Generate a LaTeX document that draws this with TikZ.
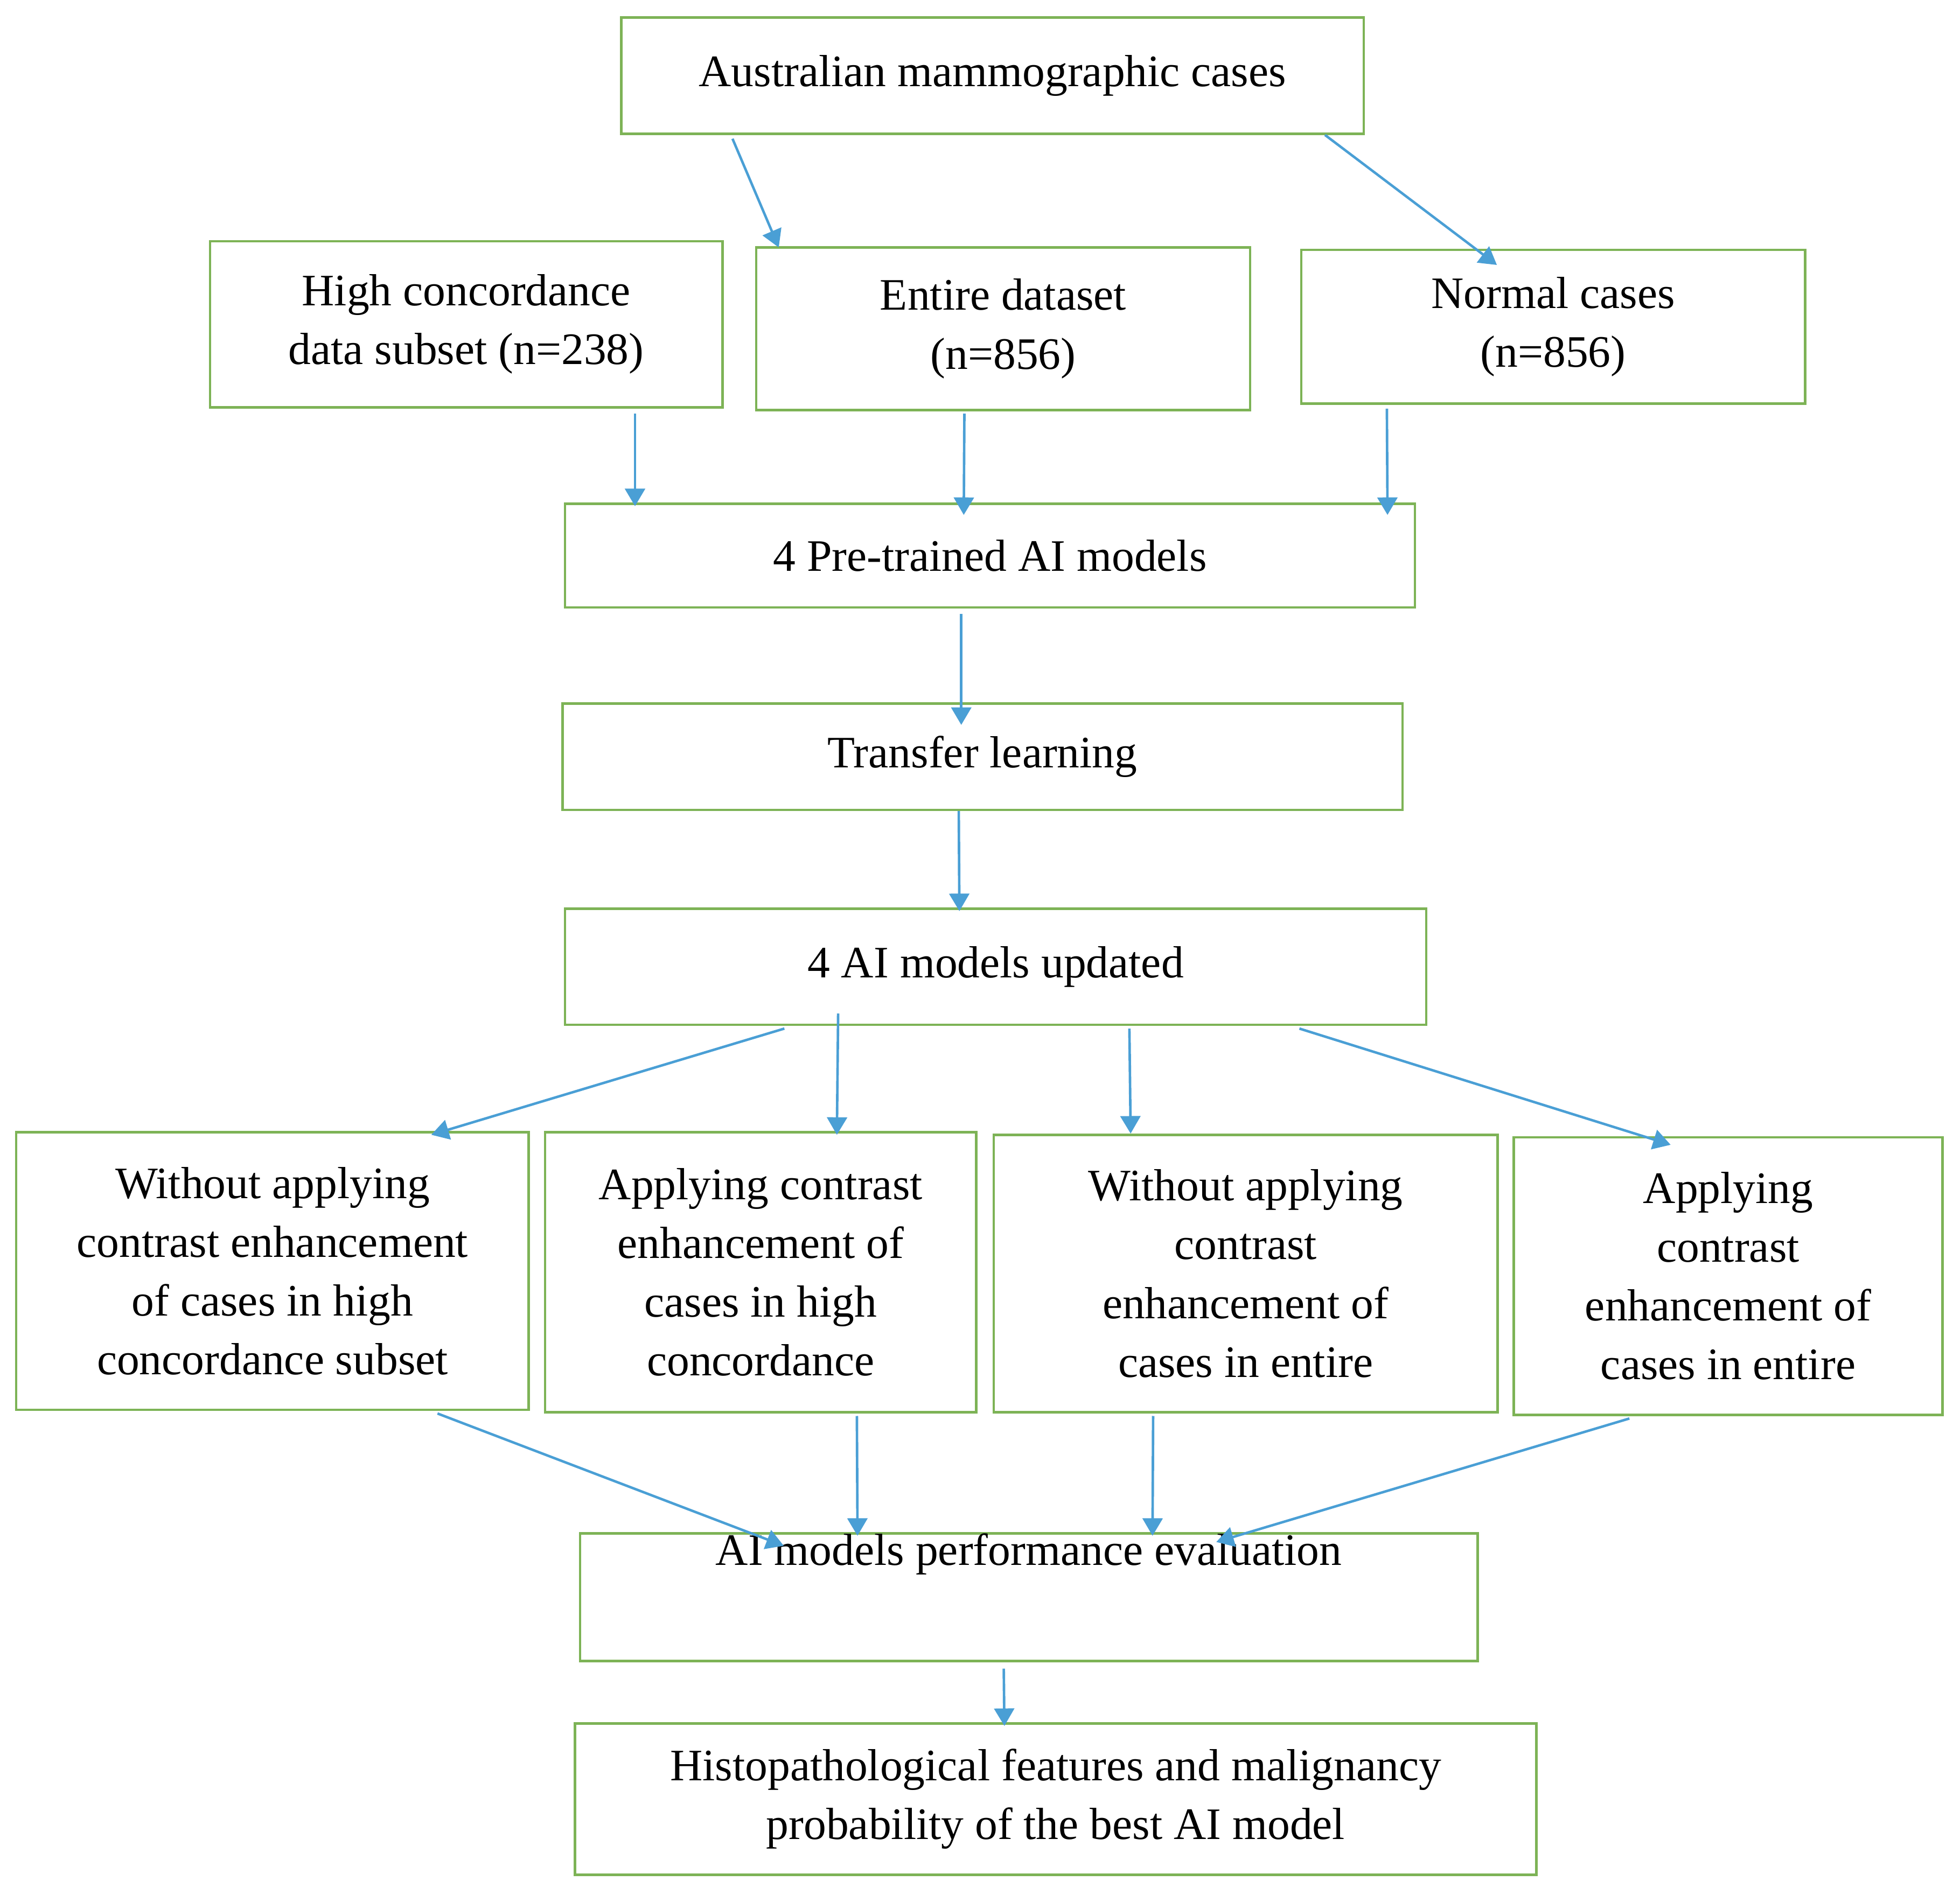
\documentclass[tikz,border=0pt]{standalone}
\usepackage{fontspec}
\setmainfont{Liberation Serif}
\usetikzlibrary{arrows.meta}
\definecolor{bx}{HTML}{7DB356}
\definecolor{ar}{HTML}{4A9FD5}
\begin{document}
\begin{tikzpicture}[x=1pt,y=-1pt,
 box/.style={draw=bx,line width=2pt,inner sep=0pt,align=center,font=\fontsize{36}{47}\selectfont},
 arr/.style={draw=ar,line width=2pt,-{Triangle[length=14pt,width=16pt]}}]
\useasboundingbox[fill=white] (0,0) rectangle (1568,1516);
\newcommand\bx[6]{\node[box,minimum width={#4-#2},minimum height={#5-#3}] (#1) at ({(#2+#4)/2},{(#3+#5)/2}) {#6};}
\bx{A}{497}{14}{1091}{107}{Australian mammographic cases}
\bx{H}{168}{193}{578}{326}{High concordance\\data subset (n=238)}
\bx{E}{605}{198}{1000}{328}{Entire dataset\\(n=856)}
\bx{N}{1041}{200}{1444}{323}{Normal cases\\(n=856)}
\bx{P}{452}{403}{1132}{486}{4 Pre-trained AI models}
\bx{T}{450}{563}{1122}{648}{Transfer learning}
\bx{U}{452}{727}{1141}{820}{4 AI models updated}
\bx{W1}{13}{906}{423}{1128}{Without applying\\contrast enhancement\\of cases in high\\concordance subset}
\bx{W2}{436}{906}{781}{1130}{Applying contrast\\enhancement of\\cases in high\\concordance}
\bx{W3}{795}{908}{1198}{1130}{Without applying\\contrast\\enhancement of\\cases in entire}
\bx{W4}{1211}{910}{1554}{1132}{Applying\\contrast\\enhancement of\\cases in entire}
\bx{EV}{464}{1233}{1182}{1323}{AI models performance evaluation\\[30pt]}
\bx{HI}{460}{1379}{1229}{1500}{Histopathological features and malignancy\\probability of the best AI model}
\draw[arr] ([xshift=-208pt,yshift=-3pt]A.south) -- ([xshift=250pt,yshift=-6pt]H.north);
\draw[arr] ([xshift=266pt]A.south) -- ([xshift=-45pt,yshift=-13pt]N.north);
\draw[arr] ([xshift=135pt,yshift=-4pt]H.south) -- ([xshift=-284pt,yshift=-3pt]P.north);
\draw[arr] ([xshift=-31pt,yshift=-2pt]E.south) -- ([xshift=-21pt,yshift=-10pt]P.north);
\draw[arr] ([xshift=-133pt,yshift=-3pt]N.south) -- ([xshift=318pt,yshift=-10pt]P.north);
\draw[arr] ([xshift=-23pt,yshift=-4pt]P.south) -- ([xshift=-17pt,yshift=-18pt]T.north);
\draw[arr] ([xshift=-19pt]T.south) -- ([xshift=-29pt,yshift=-3pt]U.north);
\draw[arr] ([xshift=-169pt,yshift=-2pt]U.south) -- ([xshift=127pt,yshift=-3pt]W1.north);
\draw[arr] ([xshift=-126pt,yshift=10pt]U.south) -- ([xshift=61pt,yshift=-3pt]W2.north);
\draw[arr] ([xshift=107pt,yshift=-2pt]U.south) -- ([xshift=-92pt]W3.north);
\draw[arr] ([xshift=243pt,yshift=-2pt]U.south) -- ([xshift=-46pt,yshift=-7pt]W4.north);
\draw[arr] ([xshift=132pt,yshift=-2pt]W1.south) -- ([xshift=-196pt,yshift=-11pt]EV.north);
\draw[arr] ([xshift=77pt,yshift=-2pt]W2.south) -- ([xshift=-137pt,yshift=-3pt]EV.north);
\draw[arr] ([xshift=-74pt,yshift=-2pt]W3.south) -- ([xshift=99pt,yshift=-3pt]EV.north);
\draw[arr] ([xshift=-79pt,yshift=-2pt]W4.south) -- ([xshift=150pt,yshift=-8pt]EV.north);
\draw[arr] ([xshift=-20pt,yshift=-5pt]EV.south) -- ([xshift=-41pt,yshift=-3pt]HI.north);
\end{tikzpicture}
\end{document}
